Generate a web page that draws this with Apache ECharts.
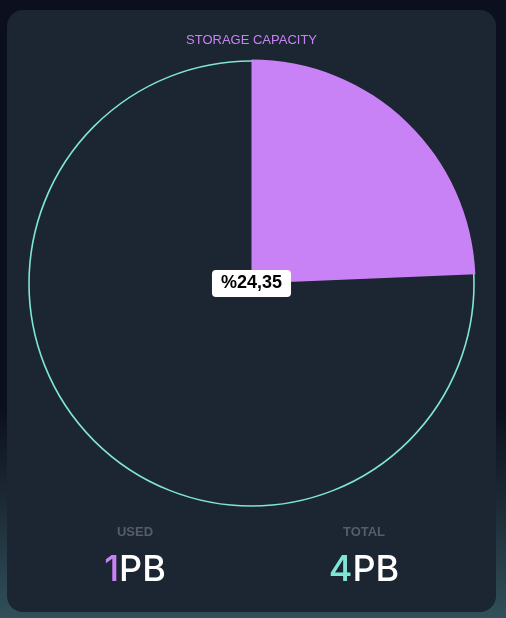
<!DOCTYPE html>
<html>
<head>
<meta charset="utf-8">
<script src="https://cdn.jsdelivr.net/npm/echarts@6/dist/echarts.min.js"></script>
<style>
  html, body { margin: 0; padding: 0; width: 506px; height: 618px; overflow: hidden; }
  body { background: linear-gradient(to bottom, #0b0f1e 0%, #0b0f1e 66%, #1d2b36 82%, #30505a 100%); }
  #card { position: absolute; left: 7px; top: 10px; width: 489px; height: 602px;
          border-radius: 16px; background: #1c2532; overflow: hidden; }
  #main { width: 489px; height: 602px; }
</style>
</head>
<body>
<div id="card"><div id="main"></div></div>
<script>
var sliceNames = ['Used', 'Free'];   // dilimler
var sliceValues = [24.35, 75.65];    // yüzde
var statLabels = ['USED', 'TOTAL'];
var statValues = [1, 4];
var statUnit = 'PB';

var purple = '#c882f5';
var teal = '#7fe6d6';
var cardBg = '#1c2532';

function pct(v) {
  return '%' + v.toFixed(2).replace('.', ',');
}

var myChart = echarts.init(document.getElementById('main'));

var option = {
  animation: false,
  title: {
    text: 'STORAGE CAPACITY',
    left: 'center',
    top: 19,
    textStyle: {
      color: purple,
      fontSize: 13,
      fontWeight: 'normal',
      fontFamily: 'Liberation Sans'
    }
  },
  series: [
    {
      // dış çember
      type: 'pie',
      silent: true,
      radius: 222.5,
      center: [244.5, 273.5],
      label: { show: false },
      labelLine: { show: false },
      itemStyle: { color: cardBg, borderColor: teal, borderWidth: 1.6 },
      data: [{ value: 1, name: 'ring' }]
    },
    {
      type: 'pie',
      silent: true,
      radius: 224,
      center: [244.5, 273.5],
      startAngle: 90,
      clockwise: true,
      labelLine: { show: false },
      data: [
        {
          name: sliceNames[0],
          value: sliceValues[0],
          itemStyle: { color: purple },
          label: {
            show: true,
            position: 'center',
            formatter: pct(sliceValues[0]),
            backgroundColor: '#ffffff',
            color: '#000000',
            fontSize: 18,
            fontWeight: 'bold',
            fontFamily: 'Liberation Sans',
            padding: [5, 9, 4, 9],
            borderRadius: 4
          }
        },
        {
          name: sliceNames[1],
          value: sliceValues[1],
          itemStyle: { color: 'rgba(0,0,0,0)' },
          label: { show: false }
        }
      ]
    }
  ],
  graphic: []
};

var statX = [128, 357];
var statColors = [purple, teal];
for (var i = 0; i < statLabels.length; i++) {
  option.graphic.push({
    type: 'text',
    x: statX[i],
    y: 522,
    style: {
      text: statLabels[i],
      fill: '#565d69',
      font: 'bold 13px "Liberation Sans"',
      align: 'center',
      verticalAlign: 'middle'
    }
  });
  option.graphic.push({
    type: 'text',
    x: statX[i],
    y: 560,
    style: {
      text: '{n|' + statValues[i] + '}{u|' + statUnit + '}',
      align: 'center',
      verticalAlign: 'middle',
      rich: {
        n: { fill: statColors[i], fontSize: 36, fontWeight: 500, fontFamily: 'Inter' },
        u: { fill: '#ffffff', fontSize: 36, fontWeight: 500, fontFamily: 'Inter' }
      }
    }
  });
}

myChart.setOption(option);
</script>
</body>
</html>
